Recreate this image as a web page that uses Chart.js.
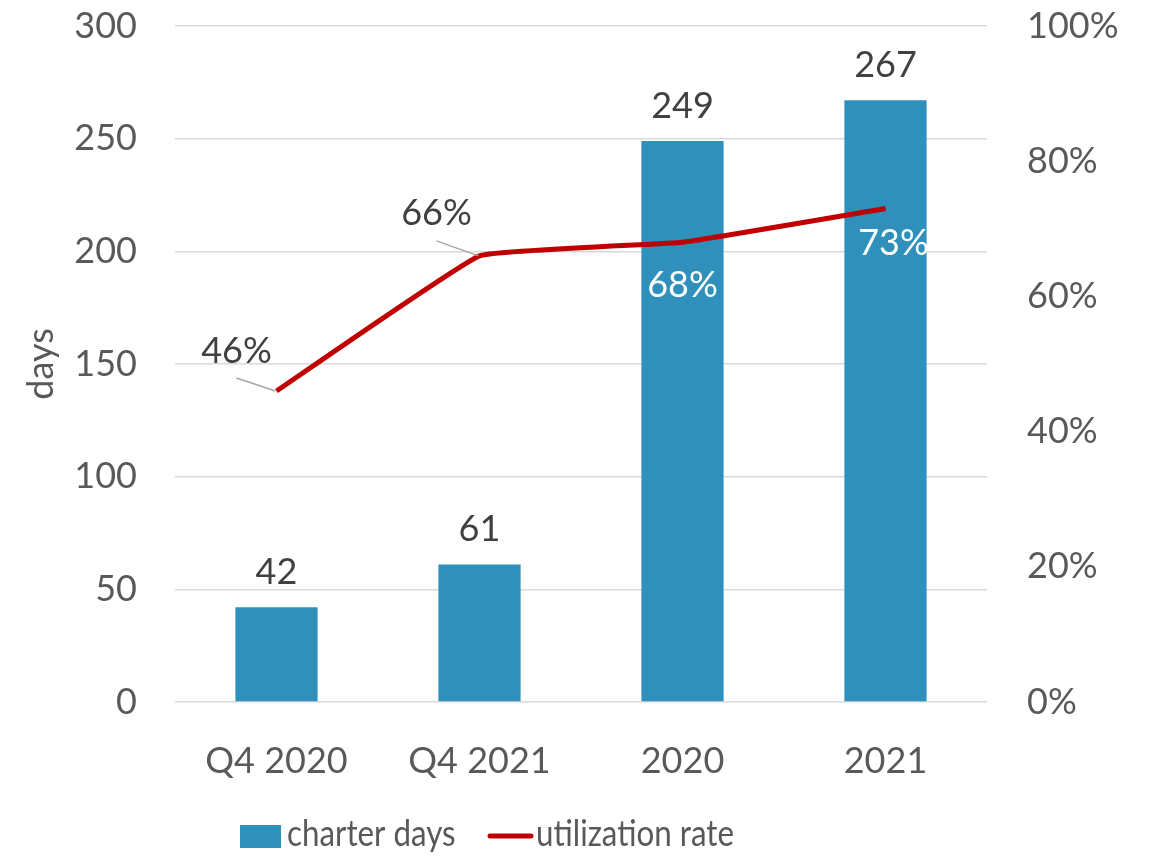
<!DOCTYPE html>
<html>
<head>
<meta charset="utf-8">
<script src="https://cdn.jsdelivr.net/npm/chart.js@4.4.1/dist/chart.umd.min.js"></script>
<style>
  html, body { margin: 0; padding: 0; background: #fff; }
  canvas { display: block; }
</style>
</head>
<body>
<canvas id="c" width="1153" height="857"></canvas>
<script>
// data
const categories = ['Q4 2020', 'Q4 2021', '2020', '2021'];
const charterDays = [42, 61, 249, 267];
const utilizationRate = [0.46, 0.66, 0.68, 0.73];
const daysTicks = [0, 50, 100, 150, 200, 250, 300];
const rateTicks = [0, 0.2, 0.4, 0.6, 0.8, 1.0];

// where each rate label sits relative to its point (dx, dy), and its colour
const rateLabelPos = [[-40, -40], [-43, -42], [0, 43], [8, 35]];
const rateLabelColor = ['#404040', '#404040', '#ffffff', '#ffffff'];
const rateLeader = [true, true, false, false];

const FONT = 'Lato';
const grey = '#595959';

// narrow text a bit, lowercase in Lato is wider than the original font
function narrowText(ctx, txt, x, y, k) {
  ctx.save();
  ctx.translate(x, y);
  ctx.scale(k, 1);
  ctx.fillText(txt, 0, 0);
  ctx.restore();
}

const labelsPlugin = {
  id: 'valueLabels',
  afterDatasetsDraw(chart) {
    const ctx = chart.ctx;
    ctx.save();
    ctx.font = '36px ' + FONT;
    ctx.textAlign = 'center';
    ctx.textBaseline = 'middle';

    // bar values
    chart.getDatasetMeta(1).data.forEach((bar, i) => {
      ctx.fillStyle = '#404040';
      ctx.fillText(charterDays[i], bar.x, bar.y - 35);
    });

    // rate values with leader lines
    chart.getDatasetMeta(0).data.forEach((pt, i) => {
      const lx = pt.x + rateLabelPos[i][0];
      const ly = pt.y + rateLabelPos[i][1];
      if (rateLeader[i]) {
        ctx.strokeStyle = '#a6a6a6';
        ctx.lineWidth = 1.5;
        ctx.beginPath();
        ctx.moveTo(lx, ly + 27);
        ctx.lineTo(pt.x - 1, pt.y);
        ctx.stroke();
      }
      ctx.fillStyle = rateLabelColor[i];
      ctx.fillText(Math.round(utilizationRate[i] * 100) + '%', lx, ly);
    });
    ctx.restore();
  },
  afterDraw(chart) {
    // legend
    const ctx = chart.ctx;
    const ds = chart.data.datasets;
    ctx.save();
    ctx.font = '36px ' + FONT;
    ctx.textBaseline = 'middle';
    ctx.textAlign = 'left';
    ctx.fillStyle = ds[1].backgroundColor;
    ctx.fillRect(240, 825, 41, 23);
    ctx.fillStyle = grey;
    narrowText(ctx, ds[1].label, 287, 834, 0.87);
    ctx.strokeStyle = ds[0].borderColor;
    ctx.lineWidth = 5;
    ctx.lineCap = 'round';
    ctx.beginPath();
    ctx.moveTo(490, 836);
    ctx.lineTo(531, 836);
    ctx.stroke();
    narrowText(ctx, ds[0].label, 536, 834, 0.87);
    ctx.restore();
  }
};

new Chart(document.getElementById('c'), {
  data: {
    labels: categories,
    datasets: [
      {
        type: 'line',
        label: 'utilization rate',
        data: utilizationRate,
        yAxisID: 'y1',
        borderColor: '#C00000',
        borderWidth: 5,
        pointRadius: 0,
        tension: 0.08,
        order: 0
      },
      {
        type: 'bar',
        label: 'charter days',
        data: charterDays,
        yAxisID: 'y',
        backgroundColor: '#2E90BB',
        categoryPercentage: 1,
        barPercentage: 0.405,
        order: 1
      }
    ]
  },
  options: {
    responsive: false,
    devicePixelRatio: 1,
    animation: false,
    layout: { padding: { top: 26, bottom: 62, left: 0, right: 0 } },
    plugins: {
      legend: { display: false },
      tooltip: { enabled: false }
    },
    scales: {
      x: {
        grid: { display: false },
        border: { display: false },
        ticks: { color: grey, font: { family: FONT, size: 36 }, padding: 30, maxRotation: 0 },
        afterFit(s) { s.height = 93; s.paddingLeft = 0; s.paddingRight = 0; }
      },
      y: {
        position: 'left',
        min: 0,
        max: 300,
        afterBuildTicks(s) { s.ticks = daysTicks.map(v => ({ value: v })); },
        grid: { color: '#d9d9d9', lineWidth: 1.5, drawTicks: false },
        border: { display: false },
        ticks: { color: grey, font: { family: FONT, size: 36 }, padding: 38 },
        title: { display: true, text: 'days', color: grey, font: { family: FONT, size: 36 }, padding: { top: 20, bottom: 0 } },
        afterFit(s) { s.width = 175; s.paddingTop = 0; s.paddingBottom = 0; }
      },
      y1: {
        position: 'right',
        min: 0,
        max: 1,
        afterBuildTicks(s) { s.ticks = rateTicks.map(v => ({ value: v })); },
        grid: { display: false, drawTicks: false },
        border: { display: false },
        ticks: {
          color: grey,
          font: { family: FONT, size: 36 },
          padding: 40,
          callback: v => Math.round(v * 100) + '%'
        },
        afterFit(s) { s.width = 166; s.paddingTop = 0; s.paddingBottom = 0; }
      }
    }
  },
  plugins: [labelsPlugin]
});
</script>
</body>
</html>
